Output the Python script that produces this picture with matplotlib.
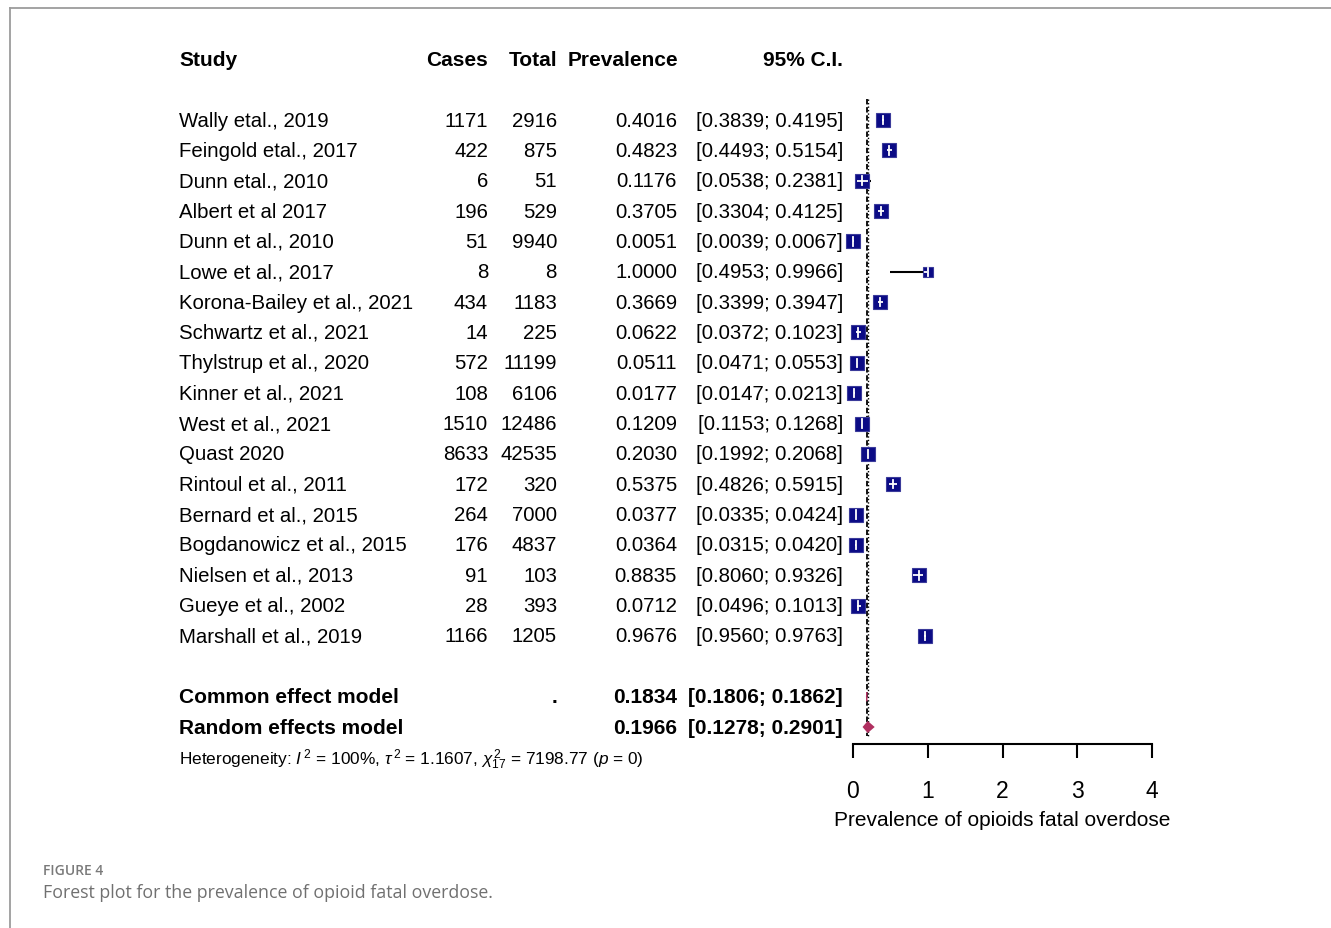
import matplotlib
matplotlib.use("Agg")
import matplotlib.pyplot as plt
from matplotlib.transforms import blended_transform_factory
from matplotlib.lines import Line2D

# ---------------- data ----------------
studies = ["Wally etal., 2019", "Feingold etal., 2017", "Dunn etal., 2010", "Albert et al 2017",
           "Dunn et al., 2010", "Lowe et al., 2017", "Korona-Bailey et al., 2021", "Schwartz et al., 2021",
           "Thylstrup et al., 2020", "Kinner et al., 2021", "West et al., 2021", "Quast 2020",
           "Rintoul et al., 2011", "Bernard et al., 2015", "Bogdanowicz et al., 2015", "Nielsen et al., 2013",
           "Gueye et al., 2002", "Marshall et al., 2019"]
cases = [1171, 422, 6, 196, 51, 8, 434, 14, 572, 108, 1510, 8633, 172, 264, 176, 91, 28, 1166]
totals = [2916, 875, 51, 529, 9940, 8, 1183, 225, 11199, 6106, 12486, 42535, 320, 7000, 4837, 103, 393, 1205]
prev = [0.4016, 0.4823, 0.1176, 0.3705, 0.0051, 1.0000, 0.3669, 0.0622, 0.0511, 0.0177,
        0.1209, 0.2030, 0.5375, 0.0377, 0.0364, 0.8835, 0.0712, 0.9676]
lower = [0.3839, 0.4493, 0.0538, 0.3304, 0.0039, 0.4953, 0.3399, 0.0372, 0.0471, 0.0147,
         0.1153, 0.1992, 0.4826, 0.0335, 0.0315, 0.8060, 0.0496, 0.9560]
upper = [0.4195, 0.5154, 0.2381, 0.4125, 0.0067, 0.9966, 0.3947, 0.1023, 0.0553, 0.0213,
         0.1268, 0.2068, 0.5915, 0.0424, 0.0420, 0.9326, 0.1013, 0.9763]
box_size = [10, 10, 10.5, 10, 9.5, 7.5, 10, 9.5, 10, 10, 10, 9.5, 10, 10, 10, 10, 10, 10]

models = ["Common effect model", "Random effects model"]
model_total = [".", ""]
model_prev = [0.1834, 0.1966]
model_lower = [0.1806, 0.1278]
model_upper = [0.1862, 0.2901]

headers = ["Study", "Cases", "Total", "Prevalence", "95% C.I."]
xticks = [0, 1, 2, 3, 4]
xlabel = "Prevalence of opioids fatal overdose"
heterogeneity = (r"Heterogeneity: $\mathit{I}^{\,2}$ = 100%, $\tau^{\,2}$ = 1.1607, "
                 r"$\chi^{\,2}_{17}$ = 7198.77 ($\mathit{p}$ = 0)")

# ---------------- style ----------------
plt.rcParams["font.family"] = ["Liberation Sans", "DejaVu Sans"]
plt.rcParams["mathtext.fontset"] = "custom"
plt.rcParams["mathtext.rm"] = "Liberation Sans"
plt.rcParams["mathtext.it"] = "Liberation Sans:italic"
plt.rcParams["mathtext.bf"] = "Liberation Sans:bold"

W, H = 1331, 929
fig = plt.figure(figsize=(W / 100, H / 100), dpi=100)

ax_left, ax_right, ax_top, ax_bot = 853, 1152, 40, 745
ax = fig.add_axes([ax_left / W, 1 - ax_bot / H, (ax_right - ax_left) / W, (ax_bot - ax_top) / H])
ax.set_xlim(0, 4)
ax.set_ylim(20.56, -2.67)
for s in ["top", "right", "left"]:
    ax.spines[s].set_visible(False)
ax.spines["bottom"].set_linewidth(1.5)
ax.set_yticks([])
ax.set_xticks(xticks)
ax.tick_params(axis="x", length=10, width=1.5, pad=15, labelsize=16.5)
ax.set_xlabel(xlabel, fontsize=15, labelpad=6)

box_color = "#0b0b85"
diamond_color = "#b03060"
px_per_unit = (ax_right - ax_left) / 4.0

# reference lines
ax.vlines(model_prev[0], -0.7, 20.3, colors="black", linestyles=(0, (3, 1.5)), lw=1.3, zorder=1)
ax.vlines(model_prev[1], -0.7, 20.3, colors="black", linestyles=(0, (1, 1.5)), lw=1.0, zorder=1)

for i in range(len(studies)):
    y = i
    ax.plot([lower[i], upper[i]], [y, y], color="black", lw=1.5, zorder=2, solid_capstyle="butt",
            clip_on=False)
    ax.plot([prev[i]], [y], marker="s", ms=box_size[i], color=box_color,
            markeredgecolor="#3a3a9a", markeredgewidth=0.8, zorder=3, linestyle="none", clip_on=False)
    half = (box_size[i] * 100 / 72 / 2) / px_per_unit
    a = max(lower[i], prev[i] - half * 0.8)
    b = min(upper[i], prev[i] + half * 0.8)
    ax.plot([a, b], [y, y], color="white", lw=1.3, zorder=4, solid_capstyle="butt", clip_on=False)
    ax.plot([prev[i], prev[i]], [y - 0.14, y + 0.14], color="white", lw=1.3, zorder=4, clip_on=False)

for j in range(2):
    y = 19 + j
    h = 0.15 if j == 0 else 0.2
    ax.fill([model_lower[j], model_prev[j], model_upper[j], model_prev[j]],
            [y, y - h, y, y + h], color=diamond_color, zorder=3, lw=0.8 if j == 0 else 0,
            edgecolor=diamond_color, clip_on=False)

# ---------------- text columns ----------------
tr = blended_transform_factory(fig.transFigure, ax.transData)
fs = 14.7
fsb = 15
col_study, col_cases, col_total, col_prev, col_ci = 179, 488, 557, 677, 843

def put(px, y, s, ha="right", **kw):
    ax.text(px / W, y, s, transform=tr, ha=ha, va="center", fontsize=kw.pop("fontsize", fs),
            clip_on=False, **kw)

hy = -2.0
put(col_study, hy, headers[0], ha="left", fontweight="bold", fontsize=fsb)
put(col_cases, hy, headers[1], fontweight="bold", fontsize=fsb)
put(col_total, hy, headers[2], fontweight="bold", fontsize=fsb)
put(col_prev + 1, hy, headers[3], fontweight="bold", fontsize=fsb)
put(col_ci, hy, headers[4], fontweight="bold", fontsize=fsb)

for i in range(len(studies)):
    put(col_study, i, studies[i], ha="left")
    put(col_cases, i, str(cases[i]))
    put(col_total, i, str(totals[i]))
    put(col_prev, i, f"{prev[i]:.4f}")
    put(col_ci, i, f"[{lower[i]:.4f}; {upper[i]:.4f}]")

for j in range(2):
    y = 19 + j
    put(col_study, y, models[j], ha="left", fontweight="bold", fontsize=fsb)
    if model_total[j]:
        put(col_total, y, model_total[j], fontweight="bold", fontsize=fsb)
    put(col_prev, y, f"{model_prev[j]:.4f}", fontweight="bold", fontsize=fsb)
    put(col_ci, y, f"[{model_lower[j]:.4f}; {model_upper[j]:.4f}]", fontweight="bold", fontsize=fsb)

put(col_study, 21.05, heterogeneity, ha="left", fontsize=12.4)

# ---------------- frame and caption ----------------
fig.add_artist(Line2D([10 / W, 10 / W], [1 - 9 / H, 0], transform=fig.transFigure,
                      color="#9c9c9c", lw=1.3))
fig.add_artist(Line2D([10 / W, 1], [1 - 9 / H, 1 - 9 / H], transform=fig.transFigure,
                      color="#9c9c9c", lw=1.3))
fig.text(43 / W, 1 - 871 / H, "FIGURE 4", family="Open Sans", fontsize=10, color="#7a7a7a",
         fontweight="semibold", va="center", ha="left")
fig.text(43 / W, 1 - 893 / H, "Forest plot for the prevalence of opioid fatal overdose.",
         family="Open Sans", fontsize=12.8, color="#707070", va="center", ha="left")

fig.savefig("out.png", dpi=100, facecolor="white")
